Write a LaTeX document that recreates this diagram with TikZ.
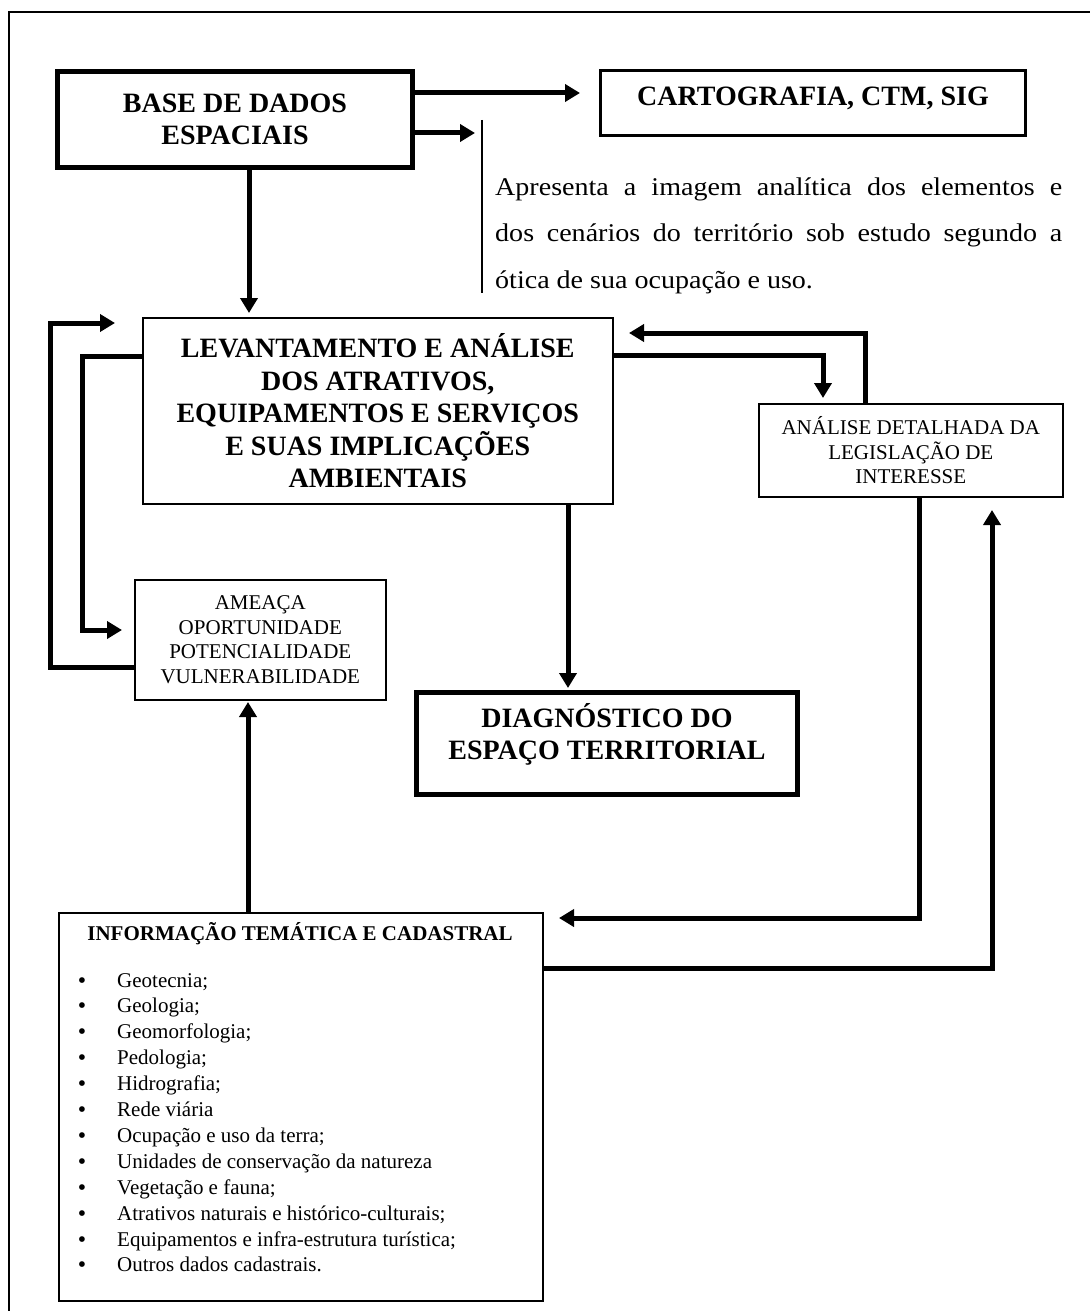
\documentclass[tikz,border=0pt]{standalone}
\usepackage{fontspec}
\setmainfont{Liberation Serif}
\newfontfamily\descfont[FakeStretch=1.1]{Liberation Serif}
\usetikzlibrary{arrows.meta}

\begin{document}
\begin{tikzpicture}[x=1pt,y=-1pt,
  box/.style={draw, inner sep=0pt, align=center, anchor=north west},
  heavybox/.style={box, line width=5pt},
  midbox/.style={box, line width=3pt},
  lightbox/.style={box, line width=1.6pt},
  bigtext/.style={font=\fontsize{28pt}{32.5pt}\selectfont\bfseries},
  smalltext/.style={font=\fontsize{21pt}{24.5pt}\selectfont},
  listtext/.style={font=\fontsize{21pt}{24pt}\selectfont},
  arr/.style={line width=5pt, line join=miter, -{Triangle[length=15pt,width=17pt]}},
]
\useasboundingbox (0,0) rectangle (1090,1311);

% page frame
\draw[line width=2.5pt] (9,1311) -- (9,12) -- (1090,12);

% boxes
\node[heavybox,bigtext,minimum width=355pt,minimum height=96pt] (base) at (55,69) {BASE DE DADOS\\ESPACIAIS};
\node[midbox,bigtext,minimum width=425pt,minimum height=65pt] (carto) at (599,69) {CARTOGRAFIA, CTM, SIG\\[-18pt]\mbox{}};
\node[lightbox,bigtext,minimum width=470pt,minimum height=186pt] (lev) at (142,317)
  {LEVANTAMENTO E ANÁLISE\\DOS ATRATIVOS,\\EQUIPAMENTOS E SERVIÇOS\\E SUAS IMPLICAÇÕES\\AMBIENTAIS};
\node[lightbox,smalltext,minimum width=304pt,minimum height=93pt] (anal) at (758,403)
  {ANÁLISE DETALHADA DA\\LEGISLAÇÃO DE\\INTERESSE};
\node[lightbox,smalltext,minimum width=251pt,minimum height=120pt] (amea) at (134,579)
  {AMEAÇA\\OPORTUNIDADE\\POTENCIALIDADE\\VULNERABILIDADE};
\node[heavybox,bigtext,minimum width=381pt,minimum height=102pt] (diag) at (414,690)
  {DIAGNÓSTICO DO\\ESPAÇO TERRITORIAL\\[-8pt]\mbox{}};
\node[lightbox,minimum width=484pt,minimum height=388pt] (info) at (58,912) {};

% description beside the spatial database
\draw[line width=1.2pt] (482,120) -- (482,293);
\node[anchor=base west, inner sep=0pt, font=\descfont\fontsize{25.5pt}{46.5pt}\selectfont] (desc) at (495,195)
  {\vtop{\hbox{\makebox[567pt][s]{Apresenta a imagem analítica dos elementos e}}
         \hbox{\makebox[567pt][s]{dos cenários do território sob estudo segundo a}}
         \hbox{ótica de sua ocupação e uso.}}};

% thematic and cadastral information
\node[anchor=base, inner sep=0pt, font=\fontsize{21pt}{24pt}\selectfont\bfseries] (infotitle) at (300,940)
  {INFORMAÇÃO TEMÁTICA E CADASTRAL};
\foreach \t [count=\i from 0] in {Geotecnia;, Geologia;, Geomorfologia;, Pedologia;, Hidrografia;,
    Rede viária, Ocupação e uso da terra;, Unidades de conservação da natureza, Vegetação e fauna;,
    Atrativos naturais e histórico-culturais;, Equipamentos e infra-estrutura turística;,
    Outros dados cadastrais.}{
  \node[anchor=base, inner sep=0pt, listtext] (dot\i) at (82,{987+25.9*\i}) {\textbf{•}};
  \node[anchor=base west, inner sep=0pt, listtext] (item\i) at (117,{987+25.9*\i}) {\t};
}

% arrow ends
\coordinate (tC)  at (580,93);
\coordinate (tD)  at (475,133);
\coordinate (tL)  at (249,313);
\coordinate (tLo) at (115,323);
\coordinate (tAi) at (122,630);
\coordinate (tAn) at (823,398);
\coordinate (tLr) at (629,333);
\coordinate (tDg) at (568,688);
\coordinate (tI)  at (559,918);
\coordinate (tAu) at (992,510);
\coordinate (tAm) at (248,702);

% connectors
\draw[arr] (base.east |- tC) -- (tC);
\draw[arr] (base.east |- tD) -- (tD);
\draw[arr] (base.south -| tL) -- (tL);
\draw[arr] (amea.west |- 0,667) -| (50,323) -- (tLo);
\draw[arr] (lev.west |- 0,356) -| (82,630) -- (tAi);
\draw[arr] (lev.east |- 0,355) -| (tAn);
\draw[arr] (anal.north -| 865,0) |- (tLr);
\draw[arr] (lev.south -| tDg) -- (tDg);
\draw[arr] (anal.south -| 919,0) |- (tI);
\draw[arr] (info.east |- 0,968) -| (tAu);
\draw[arr] (info.north -| tAm) -- (tAm);
\end{tikzpicture}
\end{document}
